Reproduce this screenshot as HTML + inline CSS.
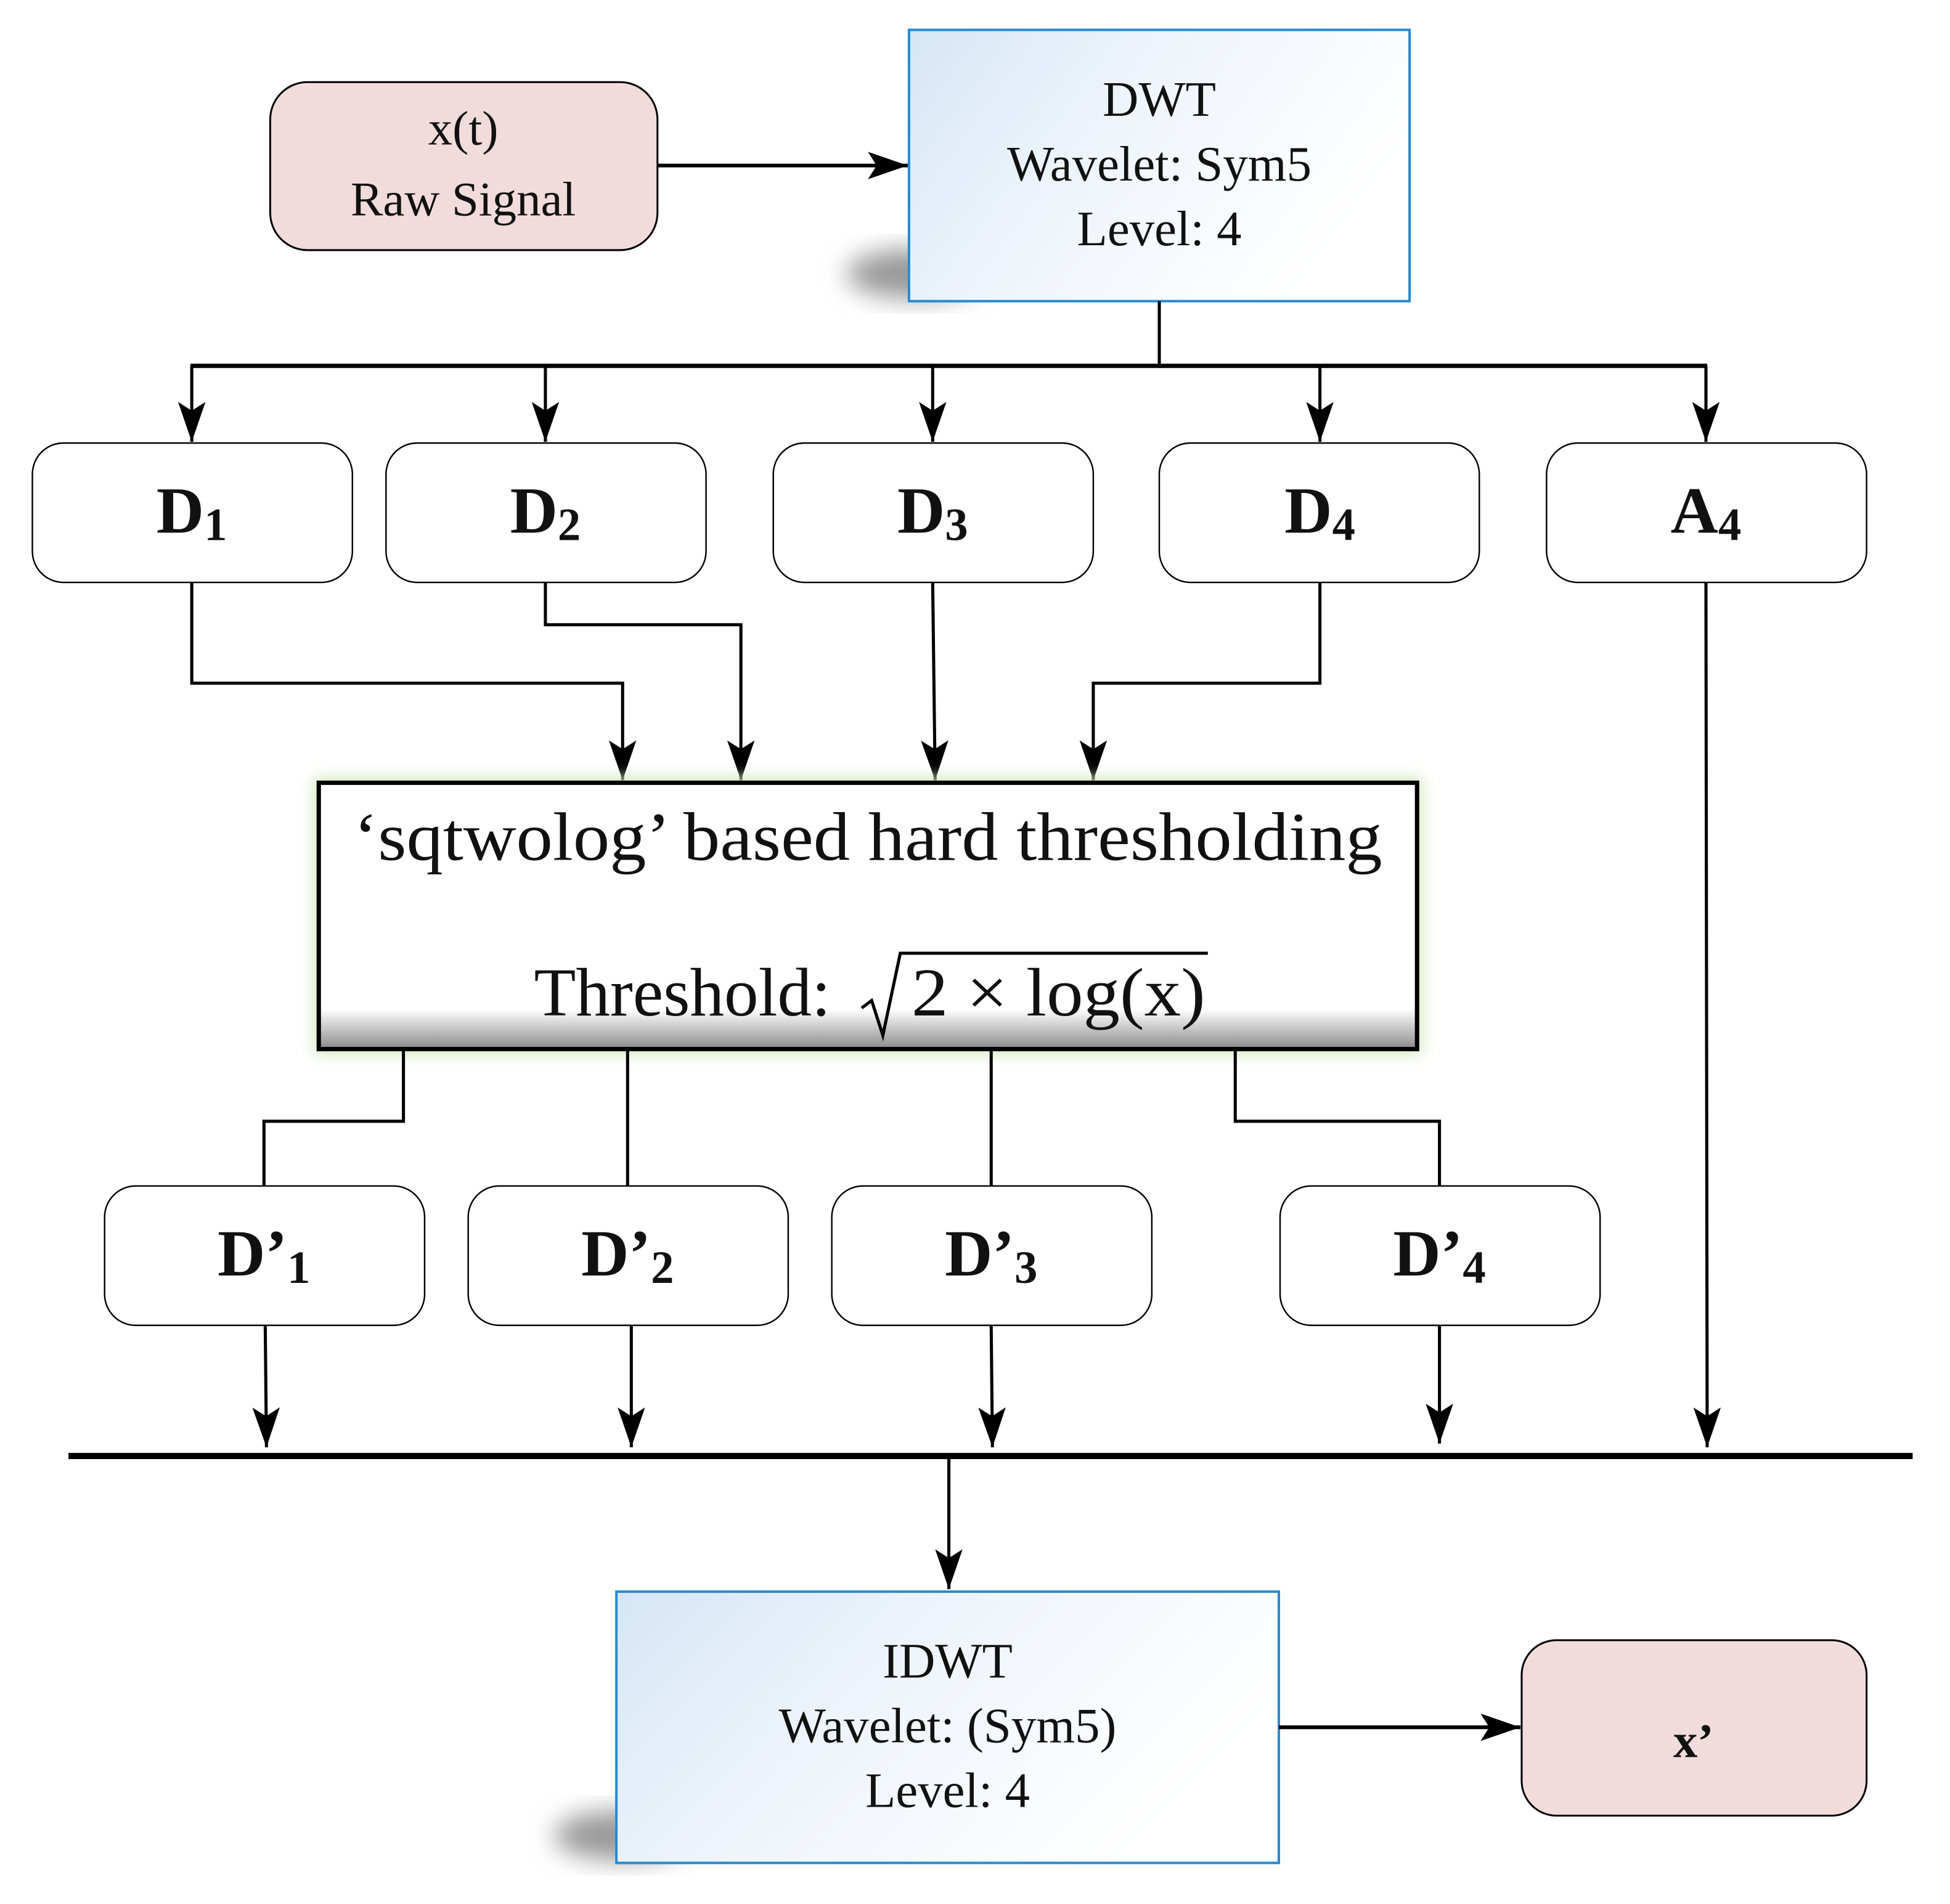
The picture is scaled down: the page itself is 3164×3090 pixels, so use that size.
<!DOCTYPE html>
<html><head><meta charset="utf-8"><style>
html,body{margin:0;padding:0;background:#fff;}
svg{display:block;}
text{font-family:"Liberation Serif","DejaVu Serif",serif;fill:#111;}
</style></head><body>
<svg width="3164" height="3090" viewBox="0 0 1566 1530" preserveAspectRatio="none" xmlns="http://www.w3.org/2000/svg">
<defs>
<linearGradient id="blue" x1="0" y1="0" x2="1" y2="0.4">
<stop offset="0" stop-color="#d6e6f5"/><stop offset="0.45" stop-color="#eef4fb"/><stop offset="1" stop-color="#ffffff"/>
</linearGradient>
<linearGradient id="thr" x1="0" y1="0" x2="0" y2="1">
<stop offset="0" stop-color="#ffffff"/><stop offset="0.85" stop-color="#ffffff"/><stop offset="1" stop-color="#8a8a8a"/>
</linearGradient>
<filter id="sh" x="-30%" y="-30%" width="160%" height="160%"><feGaussianBlur stdDeviation="10"/></filter>
<filter id="glow" x="-10%" y="-20%" width="120%" height="140%"><feGaussianBlur stdDeviation="6"/></filter>
<marker id="ar" viewBox="0 0 32 22" refX="32" refY="11" markerWidth="32" markerHeight="22" markerUnits="userSpaceOnUse" orient="auto">
<path d="M0,0 L32,11 L0,22 L7,11 Z" fill="#000"/>
</marker>
</defs>

<rect x="217" y="66" width="311" height="135" rx="30" fill="#f2dcdb" stroke="#000" stroke-width="1.5"/>
<text x="372" y="116" font-size="39" text-anchor="middle">x(t)</text>
<text x="372" y="173" font-size="39" text-anchor="middle">Raw Signal</text>
<line x1="528" y1="133" x2="729" y2="133" stroke="#000" stroke-width="3" marker-end="url(#ar)"/>

<ellipse cx="735" cy="220" rx="55" ry="20" fill="#999" filter="url(#sh)"/>
<rect x="730" y="24" width="402" height="218" fill="url(#blue)" stroke="#2a8ad0" stroke-width="2"/>
<text x="931" y="93" font-size="40" text-anchor="middle">DWT</text>
<text x="931" y="145" font-size="40" text-anchor="middle">Wavelet: Sym5</text>
<text x="931" y="197" font-size="40" text-anchor="middle">Level: 4</text>

<g stroke="#000" stroke-width="2.5" fill="none">
<line x1="931" y1="242" x2="931" y2="294"/>
<line x1="153" y1="294" x2="1371" y2="294" stroke-width="3.5"/>
<line x1="154" y1="294" x2="154" y2="355" marker-end="url(#ar)"/>
<line x1="438" y1="294" x2="438" y2="355" marker-end="url(#ar)"/>
<line x1="749" y1="294" x2="749" y2="355" marker-end="url(#ar)"/>
<line x1="1060" y1="294" x2="1060" y2="355" marker-end="url(#ar)"/>
<line x1="1370" y1="294" x2="1370" y2="355" marker-end="url(#ar)"/>
</g>

<g fill="#fff" stroke="#000" stroke-width="1.2">
<rect x="26" y="356" width="257" height="112" rx="25"/>
<rect x="310" y="356" width="257" height="112" rx="25"/>
<rect x="621" y="356" width="257" height="112" rx="25"/>
<rect x="931" y="356" width="257" height="112" rx="25"/>
<rect x="1242" y="356" width="257" height="112" rx="25"/>
</g>
<g font-size="53" font-weight="bold" text-anchor="middle">
<text x="154" y="428">D<tspan font-size="37" dy="6">1</tspan></text>
<text x="438" y="428">D<tspan font-size="37" dy="6">2</tspan></text>
<text x="749" y="428">D<tspan font-size="37" dy="6">3</tspan></text>
<text x="1060" y="428">D<tspan font-size="37" dy="6">4</tspan></text>
<text x="1370" y="428">A<tspan font-size="37" dy="6">4</tspan></text>
</g>

<g stroke="#000" stroke-width="2.5" fill="none">
<polyline points="154,468 154,549 500,549 500,627" marker-end="url(#ar)"/>
<polyline points="438,468 438,502 595,502 595,627" marker-end="url(#ar)"/>
<polyline points="749,468 751,627" marker-end="url(#ar)"/>
<polyline points="1060,468 1060,549 878,549 878,627" marker-end="url(#ar)"/>
<line x1="1370" y1="468" x2="1371" y2="1163" marker-end="url(#ar)"/>
</g>

<rect x="252" y="625" width="890" height="222" fill="#d5e5bf" filter="url(#glow)"/>
<rect x="256" y="629" width="882" height="214" fill="url(#thr)" stroke="#000" stroke-width="3.5"/>
<text x="697" y="691" font-size="55" text-anchor="middle" textLength="826" lengthAdjust="spacingAndGlyphs">‘sqtwolog’ based hard thresholding</text>
<text x="548" y="816" font-size="55" text-anchor="middle">Threshold:</text>
<polyline points="692,810 700,804 709,832 723,766 970,766" fill="none" stroke="#000" stroke-width="2.5"/>
<text x="850" y="816" font-size="55" text-anchor="middle" textLength="236" lengthAdjust="spacingAndGlyphs">2 × log(x)</text>

<g stroke="#000" stroke-width="2.5" fill="none">
<polyline points="324,843 324,901 212,901 212,953"/>
<line x1="504" y1="843" x2="504" y2="953"/>
<line x1="796" y1="843" x2="796" y2="953"/>
<polyline points="992,843 992,901 1156,901 1156,953"/>
</g>

<g fill="#fff" stroke="#000" stroke-width="1.2">
<rect x="84" y="953" width="257" height="112" rx="25"/>
<rect x="376" y="953" width="257" height="112" rx="25"/>
<rect x="668" y="953" width="257" height="112" rx="25"/>
<rect x="1028" y="953" width="257" height="112" rx="25"/>
</g>
<g font-size="53" font-weight="bold" text-anchor="middle">
<text x="212" y="1025">D’<tspan font-size="37" dy="6">1</tspan></text>
<text x="504" y="1025">D’<tspan font-size="37" dy="6">2</tspan></text>
<text x="796" y="1025">D’<tspan font-size="37" dy="6">3</tspan></text>
<text x="1156" y="1025">D’<tspan font-size="37" dy="6">4</tspan></text>
</g>

<g stroke="#000" stroke-width="2.5" fill="none">
<line x1="213" y1="1065" x2="214" y2="1163" marker-end="url(#ar)"/>
<line x1="507" y1="1065" x2="507" y2="1163" marker-end="url(#ar)"/>
<line x1="796" y1="1065" x2="797" y2="1163" marker-end="url(#ar)"/>
<line x1="1156" y1="1065" x2="1156" y2="1160" marker-end="url(#ar)"/>
<line x1="55" y1="1170" x2="1536" y2="1170" stroke-width="5"/>
<line x1="762" y1="1172" x2="762" y2="1277" marker-end="url(#ar)"/>
</g>

<ellipse cx="500" cy="1475" rx="55" ry="20" fill="#999" filter="url(#sh)"/>
<rect x="495" y="1279" width="532" height="218" fill="url(#blue)" stroke="#2a8ad0" stroke-width="2"/>
<text x="761" y="1348" font-size="40" text-anchor="middle">IDWT</text>
<text x="761" y="1400" font-size="40" text-anchor="middle">Wavelet: (Sym5)</text>
<text x="761" y="1452" font-size="40" text-anchor="middle">Level: 4</text>
<line x1="1027" y1="1388" x2="1221" y2="1388" stroke="#000" stroke-width="3" marker-end="url(#ar)"/>

<rect x="1222" y="1318" width="277" height="141" rx="28" fill="#f2dcdb" stroke="#000" stroke-width="1.5"/>
<text x="1360" y="1412" font-size="39" font-weight="bold" text-anchor="middle">x’</text>
</svg>
</body></html>
